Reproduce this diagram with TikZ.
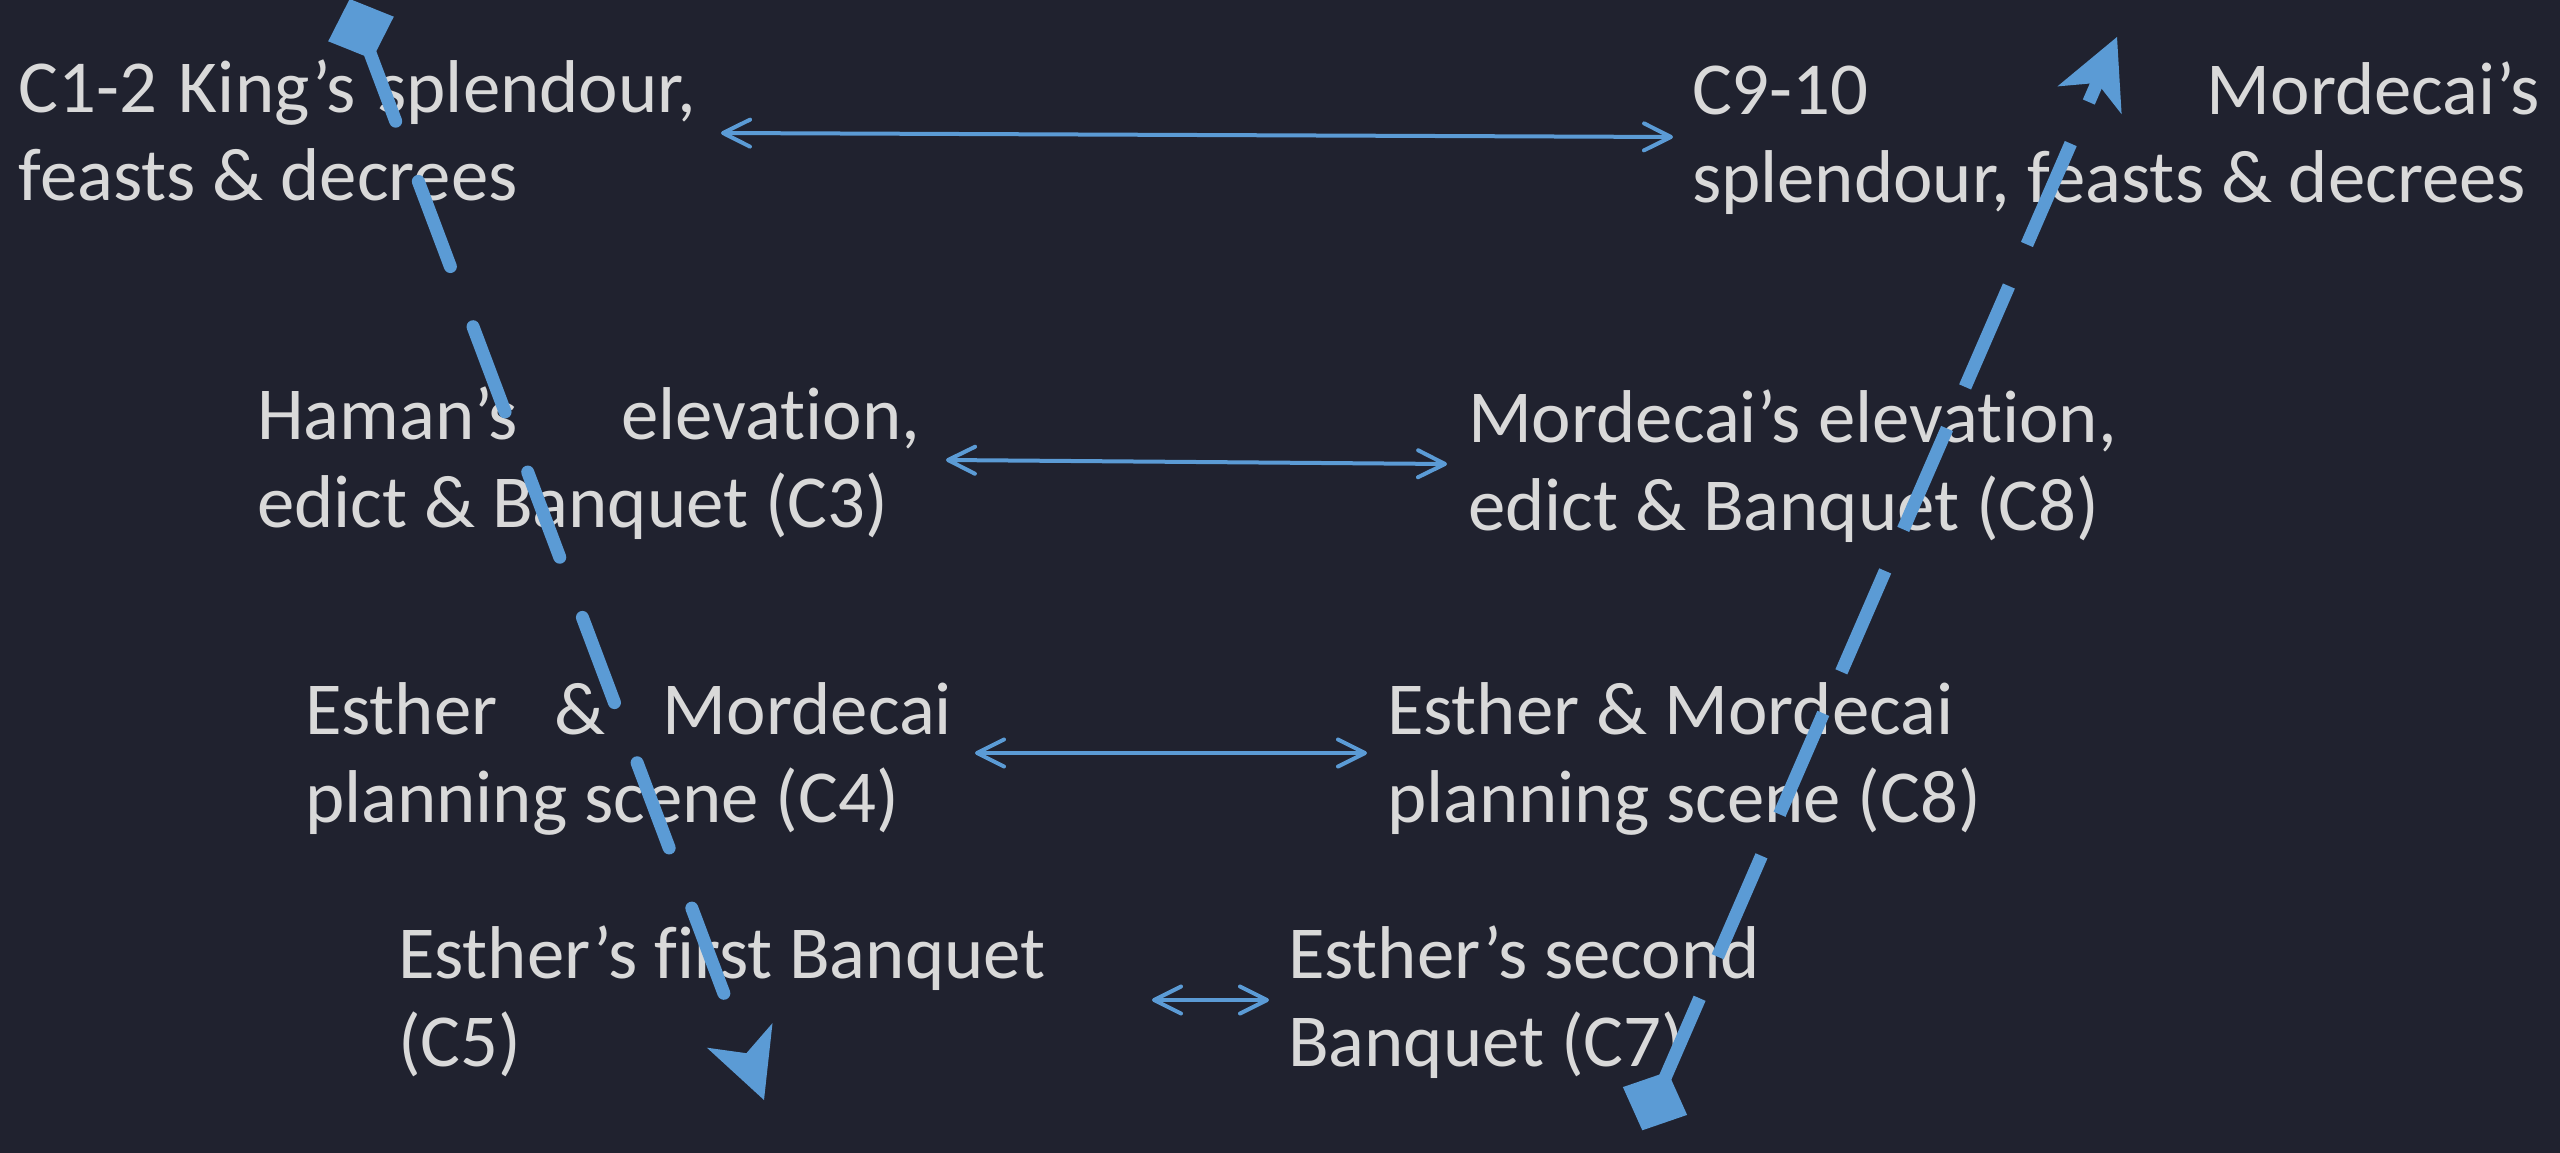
\documentclass[tikz,border=0pt]{standalone}
\usepackage{fontspec}
\setmainfont{Carlito}[Ligatures=NoCommon]
\usetikzlibrary{arrows.meta}
\definecolor{bgc}{HTML}{20222F}
\definecolor{txtc}{HTML}{D9D9D9}
\definecolor{bluec}{HTML}{5B9BD5}
\begin{document}
\begin{tikzpicture}[x=1pt,y=-1pt,
  txt/.style={text=txtc, font=\fontsize{74.8}{88}\selectfont, inner sep=0pt, outer sep=0pt, anchor=base west, align=left,
    execute at begin node={\spaceskip=0pt\xspaceskip=0pt\relax}},
  link/.style={draw=bluec, line width=4pt, {Straight Barb[length=27pt,width=27pt,round]}-{Straight Barb[length=27pt,width=27pt,round]}},
  flowL/.style={draw=bluec, line width=13pt, line cap=round, dash pattern=on 91pt off 64.3pt, dash phase=147.8pt},
  flowR/.style={draw=bluec, line width=13pt, line cap=butt, dash pattern=on 110pt off 45.3pt, dash phase=153.3pt},
  tipfill/.style={fill=bluec}]
\fill[bgc] (0,0) rectangle (2560,1153);
\useasboundingbox (0,0) rectangle (2560,1153);

% text blocks
\node[txt, text width=677pt] (L1) at (19,113) {\makebox[677pt][s]{C1-2 King’s splendour,}\\feasts \& decrees};
\node[txt, text width=848pt] (R1) at (1692,115) {\makebox[848pt][s]{C9-10 Mordecai’s}\\splendour, feasts \& decrees};
\node[txt, text width=663pt] (L2) at (257,439) {\makebox[663pt][s]{Haman’s elevation,}\\edict \& Banquet (C3)};
\node[txt, text width=900pt] (R2) at (1468,442) {Mordecai’s elevation,\\edict \& Banquet (C8)};
\node[txt, text width=647pt] (L3) at (305,734) {\makebox[647pt][s]{Esther \& Mordecai}\\planning scene (C4)};
\node[txt, text width=900pt] (R3) at (1387,734) {Esther \& Mordecai\\planning scene (C8)};
\node[txt, text width=900pt] (L4) at (398,978) {Esther’s first Banquet\\(C5)};
\node[txt, text width=900pt] (R4) at (1288,978) {Esther’s second\\Banquet (C7)};

% thin double arrows
\draw[link] ([shift={(25,20)}]L1.base east) -- ([shift={(-19,22)}]R1.base west);
\draw[link] ([shift={(26,21)}]L2.base east) -- ([shift={(-21,22)}]R2.base west);
\draw[link] ([shift={(23,19)}]L3.base east) -- ([shift={(-20,19)}]R3.base west);
\draw[link] ([shift={(754,22)}]L4.base west) -- ([shift={(-19,22)}]R4.base west);

% left dashed flow (down)
\coordinate (sL) at (361,29);
\coordinate (nL) at (746.4,1053.2);
\draw[flowL] (sL) -- (nL);
\fill[tipfill] (349.7,-1.0) -- (393.8,16.7) -- (372.3,59.0) -- (328.2,41.3) -- cycle;
\fill[tipfill] (764,1100) -- (772.5,1023.1) -- (nL) -- (706.9,1047.7) -- cycle;

% right dashed flow (up)
\coordinate (sR) at (1655,1101);
\coordinate (nR) at (2097.1,82.9);
\draw[flowR] (sR) -- (nR);
\fill[tipfill] (1667.7,1071.7) -- (1687.1,1114.9) -- (1642.3,1130.3) -- (1622.9,1087.1) -- cycle;
\fill[tipfill] (2117,37) -- (2121.6,114.2) -- (nR) -- (2057.4,86.4) -- cycle;
\end{tikzpicture}
\end{document}
